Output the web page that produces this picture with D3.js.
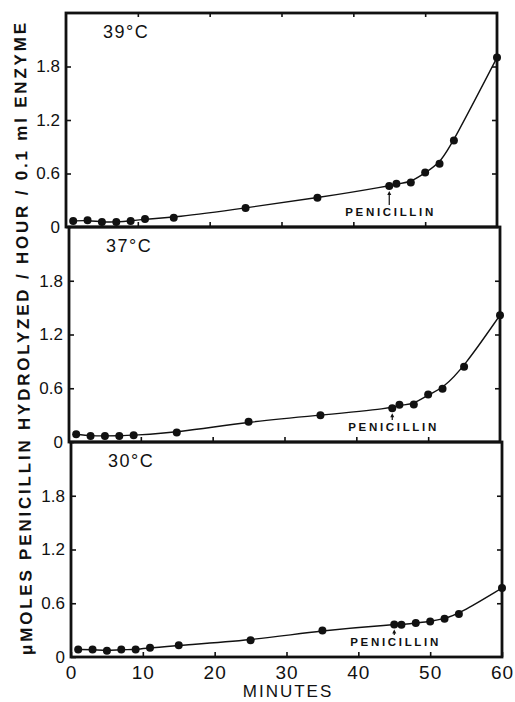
<!DOCTYPE html>
<html><head><meta charset="utf-8">
<script src="https://cdn.jsdelivr.net/npm/d3@7"></script>
<style>
body{margin:0;background:#fff}
svg{display:block}
text{font-family:"Liberation Sans",Arial,sans-serif;fill:#111}
</style>
</head><body>
<svg id="c" width="515" height="702"></svg>
<script>
// ---- data ----
const minutes39 = [1,3,5,7,9,11,15,25,35,45,46,48,50,52,54,60];
const values39  = [0.068,0.075,0.056,0.056,0.068,0.09,0.105,0.214,0.327,0.46,0.485,0.50,0.61,0.71,0.97,1.90];
const minutes37 = [1,3,5,7,9,15,25,35,45,46,48,50,52,55,60];
const values37  = [0.087,0.068,0.068,0.068,0.076,0.105,0.226,0.30,0.376,0.415,0.42,0.53,0.595,0.84,1.416];
const minutes30 = [1,3,5,7,9,11,15,25,35,45,46,48,50,52,54,60];
const values30  = [0.083,0.083,0.069,0.083,0.083,0.102,0.13,0.186,0.297,0.364,0.36,0.38,0.397,0.427,0.48,0.77];
const panelLabels = ["39°C","37°C","30°C"];
const xTicks = [0,10,20,30,40,50,60];
const xInnerTicks = [10,20,30,40,50];
const yTicks = [0,0.6,1.2,1.8];
const yInnerTicks = [0.6,1.2,1.8];
const annotationText = "PENICILLIN";
const additionMinute = 45;
const xTitle = "MINUTES";
const yTitle = "μMOLES PENICILLIN HYDROLYZED / HOUR / 0.1 ml ENZYME";

// ---- layout ----
const svg = d3.select("#c");
const ink = "#111";
const vBands = [[13,227],[227,442],[442,657]];
const hBands = [[66,497],[69,500],[71,502]];
const series = [[minutes39,values39],[minutes37,values37],[minutes30,values30]];

series.forEach(([mins, vals], i) => {
  const [top, bottom] = vBands[i];
  const [left, right] = hBands[i];
  const x = d3.scaleLinear().domain([0,60]).range([left,right]);
  const y = d3.scaleLinear().domain([0,2.4]).range([bottom,top]);
  const g = svg.append("g");

  const la = g.append("g").attr("transform",`translate(${left},0)`)
    .call(d3.axisLeft(y).tickValues(yTicks).tickSizeInner(-5).tickSizeOuter(0).tickPadding(6)
      .tickFormat(d => d === 0 ? "0" : d3.format(".1f")(d)));
  la.select(".domain").remove();
  la.selectAll("line").attr("stroke",ink).attr("stroke-width",1.6);
  la.selectAll("text").style("font-size","17px").attr("fill",ink);

  const ra = g.append("g").attr("transform",`translate(${right},0)`)
    .call(d3.axisRight(y).tickValues(yInnerTicks).tickSizeInner(-5).tickSizeOuter(0).tickFormat(""));
  ra.select(".domain").remove();
  ra.selectAll("line").attr("stroke",ink).attr("stroke-width",1.6);

  const isLast = i === series.length - 1;
  const ba = g.append("g").attr("transform",`translate(0,${bottom})`)
    .call(d3.axisBottom(x).tickValues(isLast ? xTicks : xInnerTicks).tickSizeInner(-5).tickSizeOuter(0).tickPadding(9)
      .tickFormat(isLast ? d3.format("d") : ""));
  ba.select(".domain").remove();
  ba.selectAll("line").attr("stroke",ink).attr("stroke-width",1.6);
  ba.selectAll("text").style("font-size","19px").style("letter-spacing","1px").attr("fill",ink);

  if (i === 0) {
    const ta = g.append("g").attr("transform",`translate(0,${top})`)
      .call(d3.axisTop(x).tickValues(xInnerTicks).tickSizeInner(-4).tickSizeOuter(0).tickFormat(""));
    ta.select(".domain").remove();
    ta.selectAll("line").attr("stroke",ink).attr("stroke-width",1.6);
  }

  g.append("rect").attr("x",left).attr("y",top).attr("width",right-left).attr("height",bottom-top)
    .attr("fill","none").attr("stroke",ink).attr("stroke-width",2.8);

  const pts = mins.map((m,k) => [m, vals[k]]);
  g.append("path").datum(pts)
    .attr("d", d3.line().x(d => x(d[0])).y(d => y(d[1])).curve(d3.curveBasis))
    .attr("fill","none").attr("stroke",ink).attr("stroke-width",1.4);

  g.selectAll("circle").data(pts).join("circle")
    .attr("cx", d => x(d[0])).attr("cy", d => y(d[1])).attr("r",4).attr("fill",ink);

  g.append("text").attr("x", left + 37).attr("y", top + 25)
    .style("font-size","18px").style("letter-spacing","1.5px").text(panelLabels[i]);

  const k = mins.indexOf(additionMinute);
  const ax = x(additionMinute);
  const tipY = y(vals[k]) + 5, tailY = bottom - 22;
  g.append("line").attr("x1",ax).attr("x2",ax).attr("y1",tipY+2).attr("y2",tailY)
    .attr("stroke",ink).attr("stroke-width",1.2);
  g.append("path").attr("d",`M${ax},${tipY} L${ax-2},${tipY+4} L${ax+2},${tipY+4} Z`).attr("fill",ink);
  g.append("text").attr("x", ax - 44).attr("y", bottom - 11)
    .attr("textLength",88).attr("lengthAdjust","spacing")
    .style("font-size","11.5px").style("font-weight","bold").text(annotationText);
});

svg.append("text").attr("x",288).attr("y",697).attr("text-anchor","middle")
  .style("font-size","17px").style("letter-spacing","2px").text(xTitle);

svg.append("text").attr("transform","translate(29,339) rotate(-90.6)")
  .attr("text-anchor","middle").attr("textLength",632).attr("lengthAdjust","spacing")
  .style("font-size","17px").style("font-weight","bold").text(yTitle);
</script>
</body></html>
